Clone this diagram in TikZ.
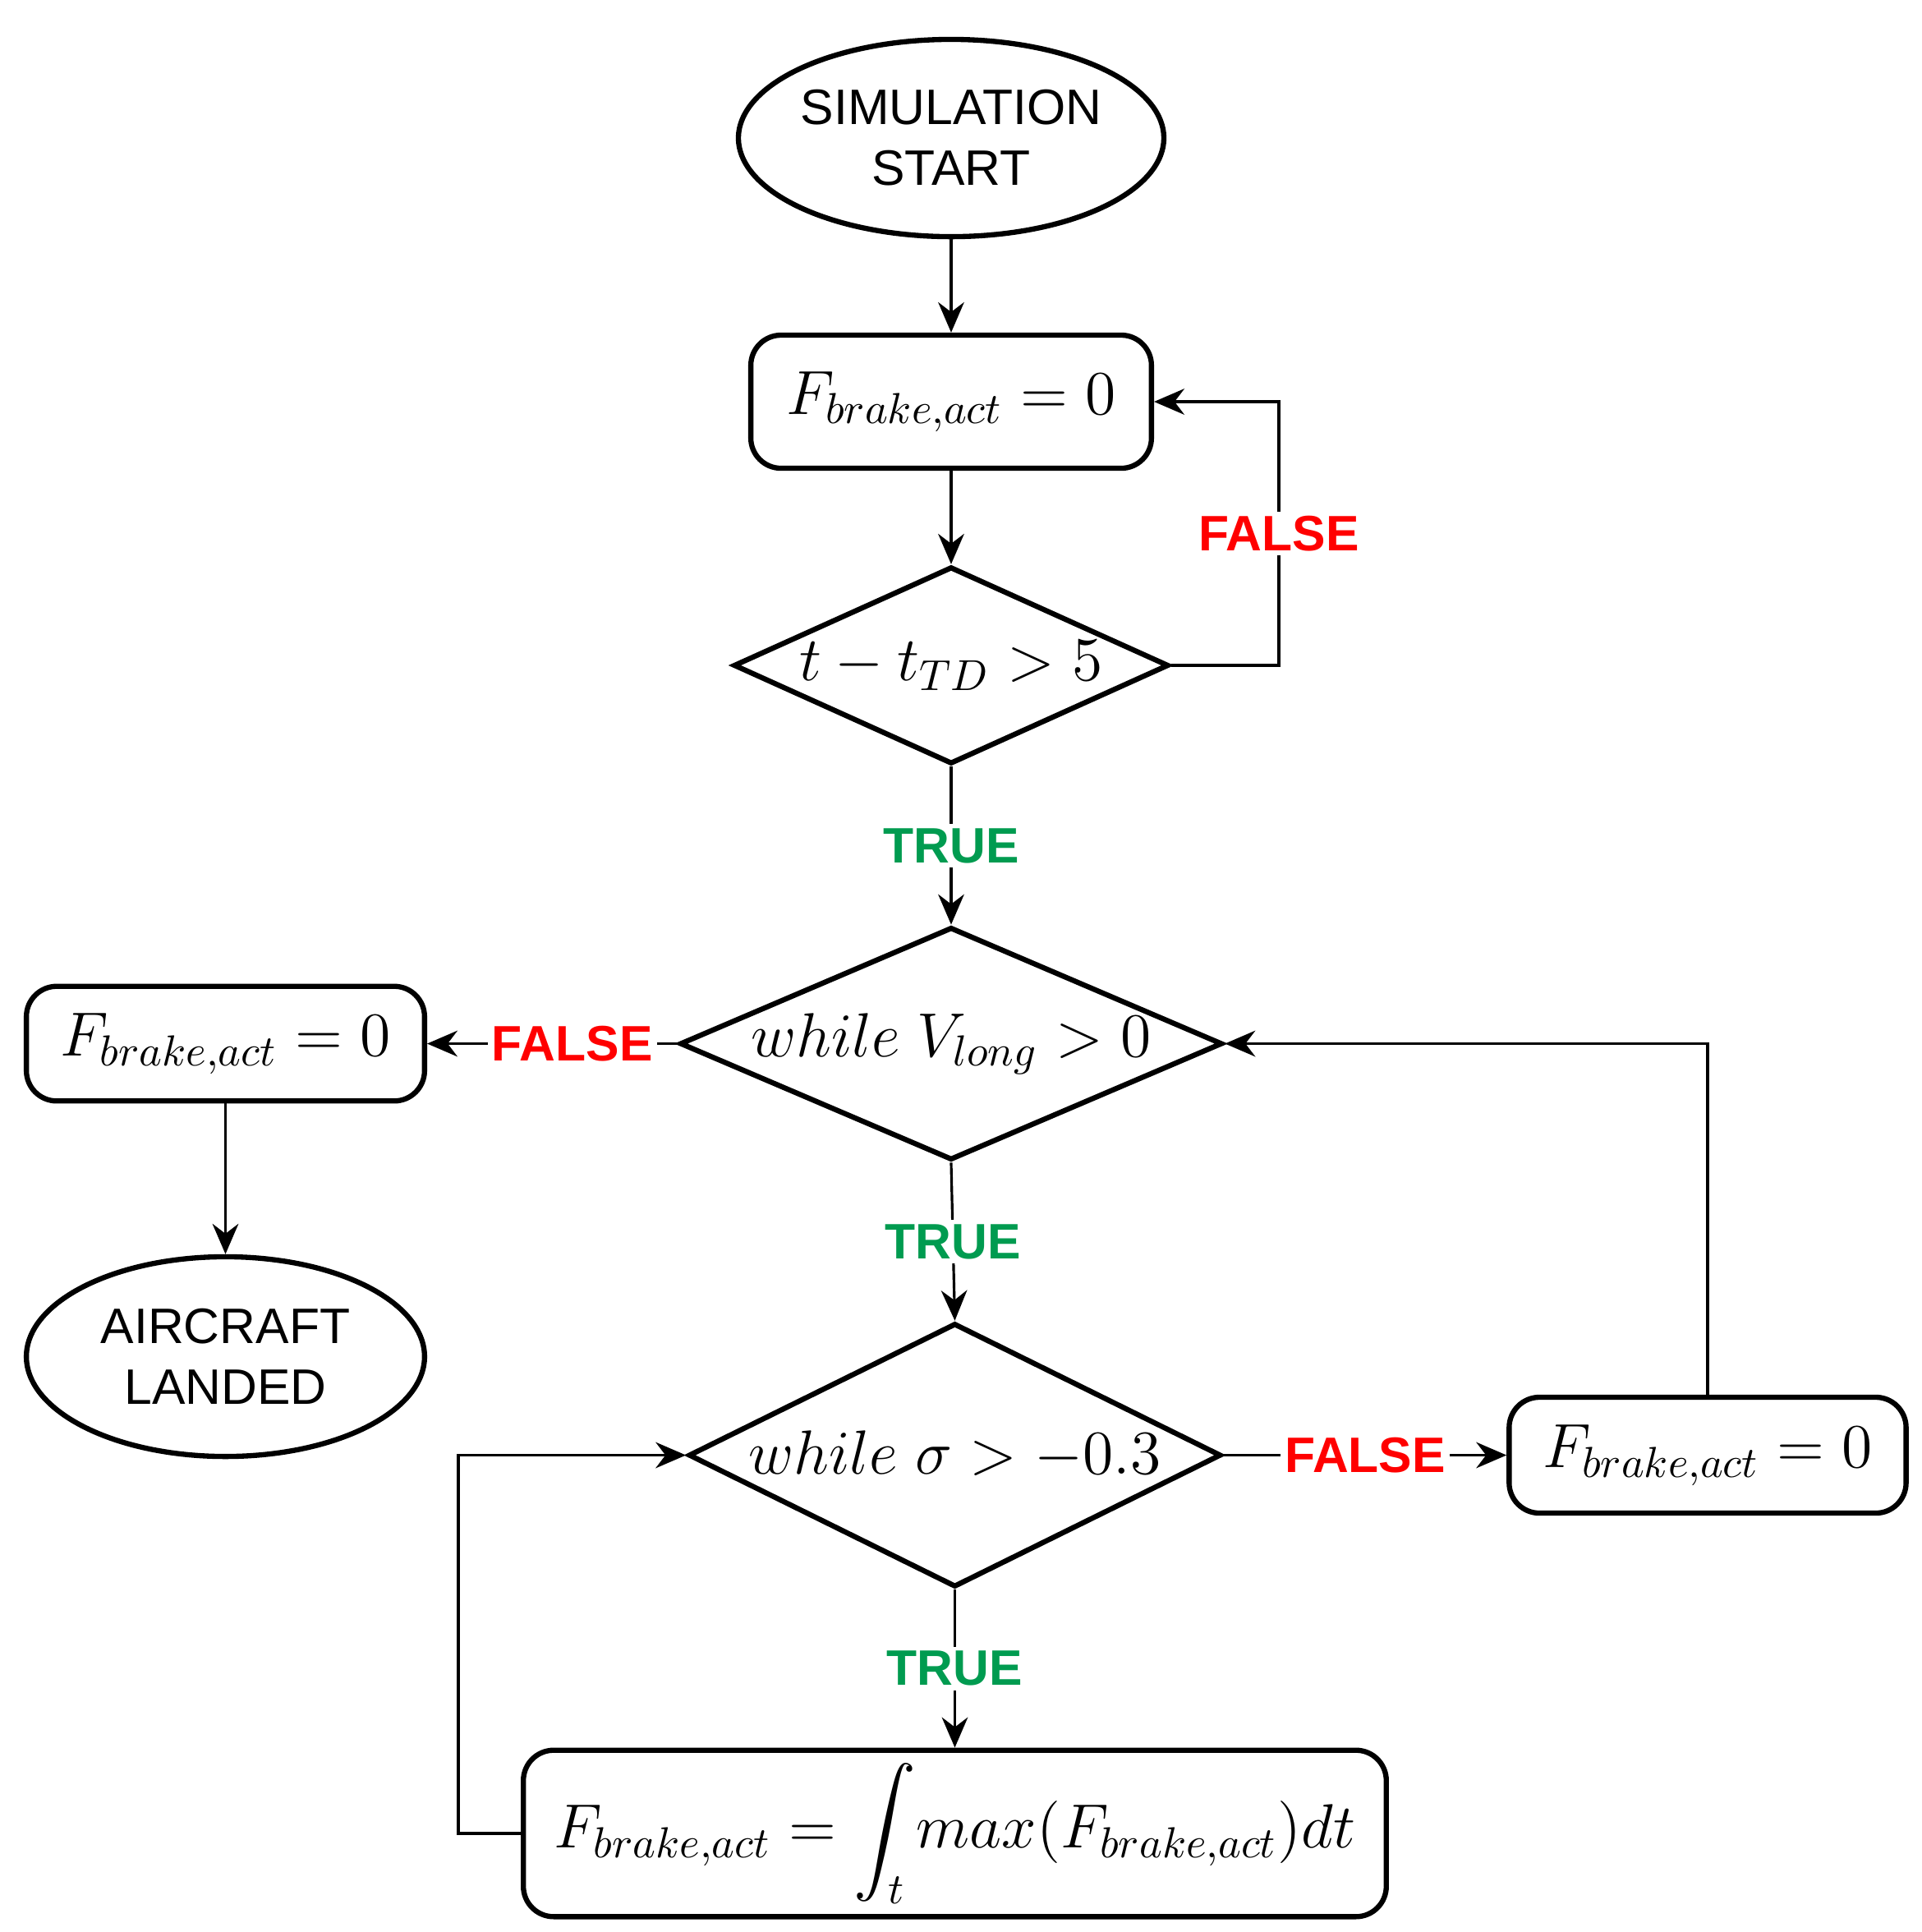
\documentclass[tikz,border=0pt]{standalone}
\usepackage{fontspec}
\setmainfont{Liberation Sans}
\usepackage{amsmath}
\usetikzlibrary{shapes.geometric,arrows.meta}
\begin{document}
\begin{tikzpicture}[x=0.01cm,y=-0.01cm,
  shp/.style={draw,line width=1.2pt,inner sep=0pt},
  box/.style={shp,rounded corners=7pt,font=\fontsize{14}{16}\selectfont},
  term/.style={shp,ellipse,font=\fontsize{11.5}{14}\selectfont,align=center},
  dia/.style={shp,diamond,font=\fontsize{14}{16}\selectfont},
  con/.style={line width=0.6pt,-{Stealth[length=7pt,width=6pt]}},
  lf/.style={font=\fontsize{11.5}{14}\selectfont\bfseries,text=red,fill=white,inner sep=1pt},
  lt/.style={font=\fontsize{11.5}{14}\selectfont\bfseries,text={rgb,255:red,0;green,155;blue,80},fill=white,inner sep=1pt}]
\useasboundingbox (0,0) rectangle (1560,1568);
\node[term,minimum width=3.24cm,minimum height=1.6cm] (start) at (772,112) {SIMULATION\\START};
\node[box,minimum width=3.25cm,minimum height=1.08cm] (b1) at (772,326) {$F_{brake,act}=0$};
\node[dia,minimum width=3.53cm,minimum height=1.6cm,aspect=2.2] (d1) at (772,540) {$t-t_{TD}>5$};
\node[dia,minimum width=4.33cm,minimum height=1.86cm,aspect=2.33] (d2) at (772,847) {$while\;V_{long}>0$};
\node[box,minimum width=3.23cm,minimum height=0.93cm] (b2) at (183,847) {$F_{brake,act}=0$};
\node[term,minimum width=3.23cm,minimum height=1.62cm] (end) at (183,1101) {AIRCRAFT\\LANDED};
\node[dia,minimum width=4.32cm,minimum height=2.14cm,aspect=2.02] (d3) at (775,1181) {$while\;\sigma>-0.3$};
\node[box,minimum width=3.22cm,minimum height=0.94cm] (b3) at (1386,1181) {$F_{brake,act}=0$};
\node[box,minimum width=7cm,minimum height=1.35cm] (b4) at (775,1488) {$F_{brake,act}=\displaystyle\int_t max(F_{brake,act})dt$};
\coordinate (c1) at (1038,540);
\coordinate (c2) at (1038,326);
\coordinate (c3) at (1386,847);
\coordinate (c4) at (372,1488);
\coordinate (c5) at (372,1181);
\draw[con] (start) -- (b1);
\draw[con] (b1) -- (d1);
\draw[con] (d1.east) -- (c1) -- node[lf]{FALSE} (c2) -- (b1.east);
\draw[con] (d1.south) -- node[lt]{TRUE} (d2.north);
\draw[con] (d2.west) -- node[lf,pos=0.42]{FALSE} (b2.east);
\draw[con] (b2) -- (end);
\draw[con] (d2.south) -- node[lt]{TRUE} (d3.north);
\draw[con] (d3.east) -- node[lf,pos=0.5]{FALSE} (b3.west);
\draw[con] (b3.north) -- (c3) -- (d2.east);
\draw[con] (d3.south) -- node[lt]{TRUE} (b4.north);
\draw[con] (b4.west) -- (c4) -- (c5) -- (d3.west);
\end{tikzpicture}
\end{document}
